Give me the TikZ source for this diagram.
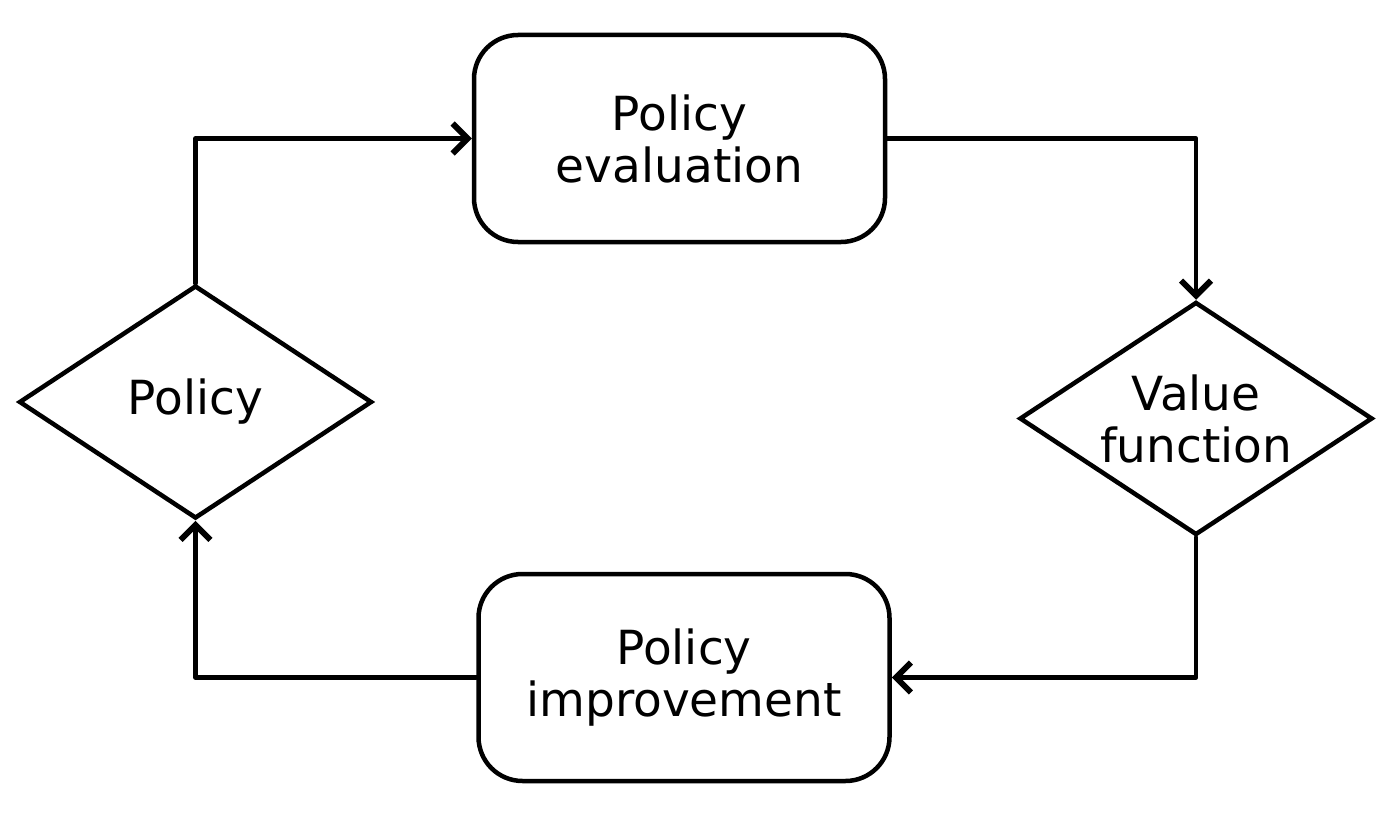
\documentclass[tikz,border=0pt]{standalone}
\usepackage{fontspec}
\setmainfont{DejaVu Sans}
\usetikzlibrary{shapes.geometric,arrows.meta}
\begin{document}
\begin{tikzpicture}[x=1pt,y=1pt,
  every node/.style={font=\fontsize{47}{52}\selectfont, align=center, inner sep=0pt},
  procbox/.style={draw, line width=4.5pt, rounded corners=44pt, minimum width=411pt, minimum height=207pt},
  decbox/.style={draw, line width=4.5pt, shape=diamond, aspect=1.5, minimum width=353pt, minimum height=233pt},
  flow/.style={line width=4.5pt, line cap=round, line join=round, -{Straight Barb[length=15pt,width=30pt,line width=0pt 1.3]}}
]
\useasboundingbox (0,0) rectangle (1400,-813);
\node[procbox] (eval) at (679.5,-138.5) {Policy\\evaluation};
\node[procbox] (imp) at (684,-677.5) {Policy\\improvement};
\node[decbox] (pol) at (195.5,-402) {Policy};
\node[decbox] (val) at (1196,-418.5) {Value\\function};
\draw[flow] (pol.north) |- (eval.west);
\draw[flow] (eval.east) -| (val.north);
\draw[flow] (val.south) |- (imp.east);
\draw[flow] (imp.west) -| (pol.south);
\end{tikzpicture}
\end{document}
